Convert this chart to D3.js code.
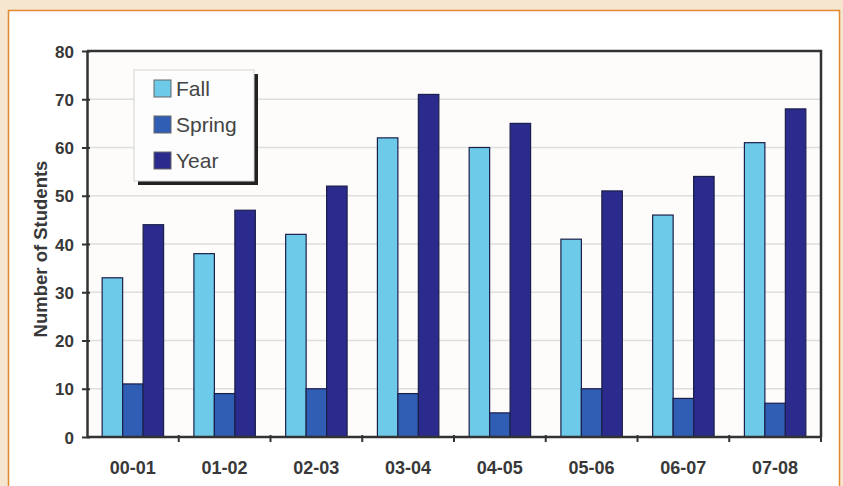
<!DOCTYPE html>
<html>
<head>
<meta charset="utf-8">
<script src="https://cdn.jsdelivr.net/npm/d3@7"></script>
<style>
  html, body { margin: 0; padding: 0; background: #f6e5cf; }
  svg { display: block; }
  text { font-family: "Liberation Sans", Arial, sans-serif; }
</style>
</head>
<body>
<svg id="chart" width="843" height="486"></svg>
<script>
// Students per academic year, split by term
const categories = ["00-01", "01-02", "02-03", "03-04", "04-05", "05-06", "06-07", "07-08"];
const seriesNames = ["Fall", "Spring", "Year"];
const fallValues = [33, 38, 42, 62, 60, 41, 46, 61];
const springValues = [11, 9, 10, 9, 5, 10, 8, 7];
const yearValues = [44, 47, 52, 71, 65, 51, 54, 68];
const yTicks = [0, 10, 20, 30, 40, 50, 60, 70, 80];
const seriesColors = ["#6dcbe9", "#2f5eb4", "#2a2b8c"];

const seriesValues = [fallValues, springValues, yearValues];
const rows = categories.map((c, i) => ({
  cat: c,
  vals: seriesNames.map((s, j) => ({ key: s, value: seriesValues[j][i] }))
}));

const svg = d3.select("#chart");
const W = 843, H = 486;

// background panel with orange frame
svg.append("rect").attr("x", 0).attr("y", 0).attr("width", W).attr("height", H).attr("fill", "#f6e5cf");
svg.append("rect").attr("x", 8.5).attr("y", 10.5).attr("width", 831).attr("height", 490)
  .attr("fill", "#ffffff").attr("stroke", "#e0892e").attr("stroke-width", 1.5);

const m = { left: 87, right: 821, top: 51, bottom: 437 };

const x0 = d3.scaleBand().domain(categories).range([m.left, m.right]).paddingInner(0).paddingOuter(0);
const x1 = d3.scaleBand().domain(seriesNames).range([0, x0.bandwidth()]).paddingInner(0).paddingOuter(0.74);
const y = d3.scaleLinear().domain([0, 80]).range([m.bottom, m.top]);

// plot area background
svg.append("rect").attr("x", m.left).attr("y", m.top)
  .attr("width", m.right - m.left).attr("height", m.bottom - m.top)
  .attr("fill", "#fdfcfa");

// horizontal gridlines
svg.append("g").selectAll("line").data(yTicks.filter(t => t > 0 && t < 80)).join("line")
  .attr("x1", m.left).attr("x2", m.right)
  .attr("y1", d => y(d)).attr("y2", d => y(d))
  .attr("stroke", "#dedede").attr("stroke-width", 1.5);

// bars
const groups = svg.append("g").selectAll("g").data(rows).join("g")
  .attr("transform", d => `translate(${x0(d.cat)},0)`);
groups.selectAll("rect").data(d => d.vals).join("rect")
  .attr("x", d => x1(d.key))
  .attr("y", d => y(d.value))
  .attr("width", x1.bandwidth())
  .attr("height", d => y(0) - y(d.value))
  .attr("fill", (d, i) => seriesColors[i])
  .attr("stroke", "#1c1f4a")
  .attr("stroke-width", 1.2);

// plot frame (top and right)
svg.append("path")
  .attr("d", `M${m.left},${m.top}H${m.right}V${m.bottom}`)
  .attr("fill", "none").attr("stroke", "#333").attr("stroke-width", 2.5);

// y axis
const yAxis = d3.axisLeft(y).tickValues(yTicks).tickSize(5).tickPadding(7).tickSizeOuter(0);
const gy = svg.append("g").attr("transform", `translate(${m.left},0)`).call(yAxis);
gy.select(".domain").attr("stroke", "#333").attr("stroke-width", 2.5);
gy.selectAll(".tick line").attr("stroke", "#333").attr("stroke-width", 2).attr("x2", 3).attr("x1", -5);
gy.selectAll(".tick text").attr("x", -13).attr("dy", "0.36em")
  .attr("font-size", 17).attr("font-weight", "bold").attr("fill", "#383838");

// x axis: ticks at category boundaries
const gx = svg.append("g").attr("transform", `translate(0,${m.bottom})`);
gx.append("line").attr("x1", m.left).attr("x2", m.right).attr("y1", 0).attr("y2", 0)
  .attr("stroke", "#333").attr("stroke-width", 2.5);
gx.selectAll("line.tick").data(categories.slice(1).concat(["__end"])).join("line")
  .attr("class", "tick")
  .attr("x1", d => d === "__end" ? m.right : x0(d))
  .attr("x2", d => d === "__end" ? m.right : x0(d))
  .attr("y1", -2).attr("y2", 5)
  .attr("stroke", "#333").attr("stroke-width", 2);
gx.selectAll("text").data(categories).join("text")
  .attr("x", d => x0(d) + x0.bandwidth() / 2)
  .attr("y", 37)
  .attr("text-anchor", "middle")
  .attr("font-size", 18).attr("font-weight", "bold").attr("fill", "#383838")
  .text(d => d);

// y axis title
svg.append("text")
  .attr("transform", `translate(47,249) rotate(-90)`)
  .attr("text-anchor", "middle")
  .attr("font-size", 18.5).attr("font-weight", "bold").attr("fill", "#383838")
  .text("Number of Students");

// legend with drop shadow
const lg = svg.append("g");
lg.append("rect").attr("x", 138).attr("y", 74).attr("width", 120).attr("height", 111).attr("fill", "#222");
lg.append("rect").attr("x", 134).attr("y", 70).attr("width", 120).attr("height", 111)
  .attr("fill", "#fdfdfd").attr("stroke", "#d4d4d4").attr("stroke-width", 1);
const items = lg.selectAll("g.item").data(seriesNames).join("g").attr("class", "item")
  .attr("transform", (d, i) => `translate(154,${88.5 + i * 36})`);
items.append("rect").attr("x", 0).attr("y", -8.5).attr("width", 17).attr("height", 17)
  .attr("fill", (d, i) => seriesColors[i]).attr("stroke", "#666").attr("stroke-width", 1);
items.append("text").attr("x", 22).attr("y", 7.5)
  .attr("font-size", 21).attr("fill", "#444").text(d => d);
</script>
</body>
</html>
